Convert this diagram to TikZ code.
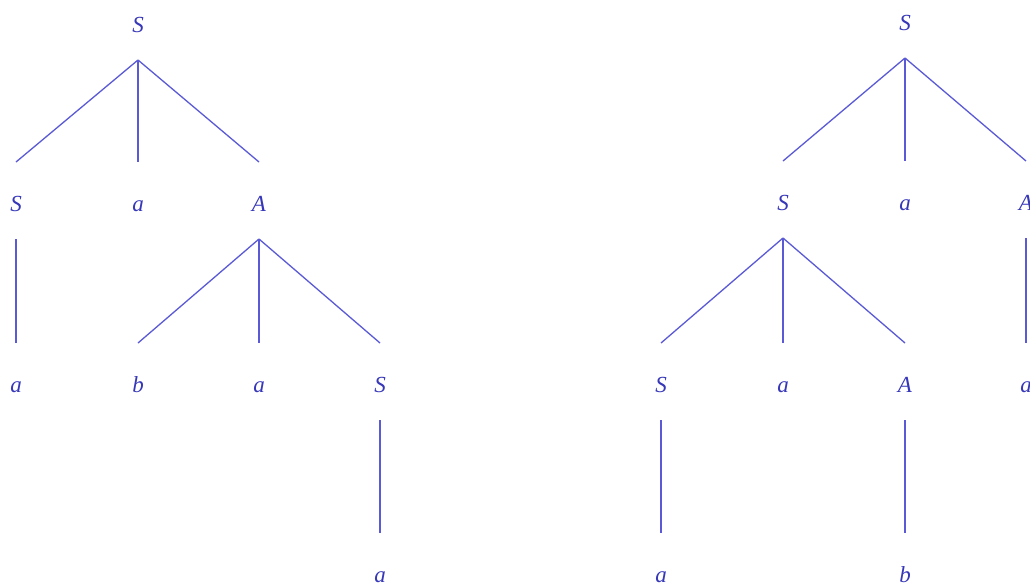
\documentclass[tikz,border=0pt]{standalone}
\usepackage{fontspec}
\setmainfont{Liberation Serif}
\usetikzlibrary{calc}
\definecolor{treeline}{RGB}{90,90,215}
\definecolor{treetext}{RGB}{55,55,185}
\begin{document}
\begin{tikzpicture}[x=1pt,y=-1pt,
  lbl/.style={inner sep=0pt,text height=15pt,text depth=0pt,text=treetext,font=\fontsize{23}{27}\selectfont\itshape},
  edge/.style={draw=treeline,line width=1.3pt}]
\useasboundingbox[fill=white] (0,0) rectangle (1030,587);
\newcommand{\tedge}[2]{\draw[edge] ($(#1)+(0,35)$) -- ($(#2)+(0,-42)$);}
% left tree
\node[lbl] (l0) at (138,25) {S};
\node[lbl] (l1) at (16,204) {S};
\node[lbl] (l2) at (138,204) {a};
\node[lbl] (l3) at (259,204) {A};
\node[lbl] (l4) at (16,385) {a};
\node[lbl] (l5) at (138,385) {b};
\node[lbl] (l6) at (259,385) {a};
\node[lbl] (l7) at (380,385) {S};
\node[lbl] (l8) at (380,575) {a};
\tedge{l0}{l1}\tedge{l0}{l2}\tedge{l0}{l3}
\tedge{l1}{l4}
\tedge{l3}{l5}\tedge{l3}{l6}\tedge{l3}{l7}
\tedge{l7}{l8}
% right tree
\node[lbl] (r0) at (905,23) {S};
\node[lbl] (r1) at (783,203) {S};
\node[lbl] (r2) at (905,203) {a};
\node[lbl] (r3) at (1026,203) {A};
\node[lbl] (r4) at (661,385) {S};
\node[lbl] (r5) at (783,385) {a};
\node[lbl] (r6) at (905,385) {A};
\node[lbl] (r7) at (1026,385) {a};
\node[lbl] (r8) at (661,575) {a};
\node[lbl] (r9) at (905,575) {b};
\tedge{r0}{r1}\tedge{r0}{r2}\tedge{r0}{r3}
\tedge{r1}{r4}\tedge{r1}{r5}\tedge{r1}{r6}
\tedge{r3}{r7}
\tedge{r4}{r8}
\tedge{r6}{r9}
\end{tikzpicture}
\end{document}
